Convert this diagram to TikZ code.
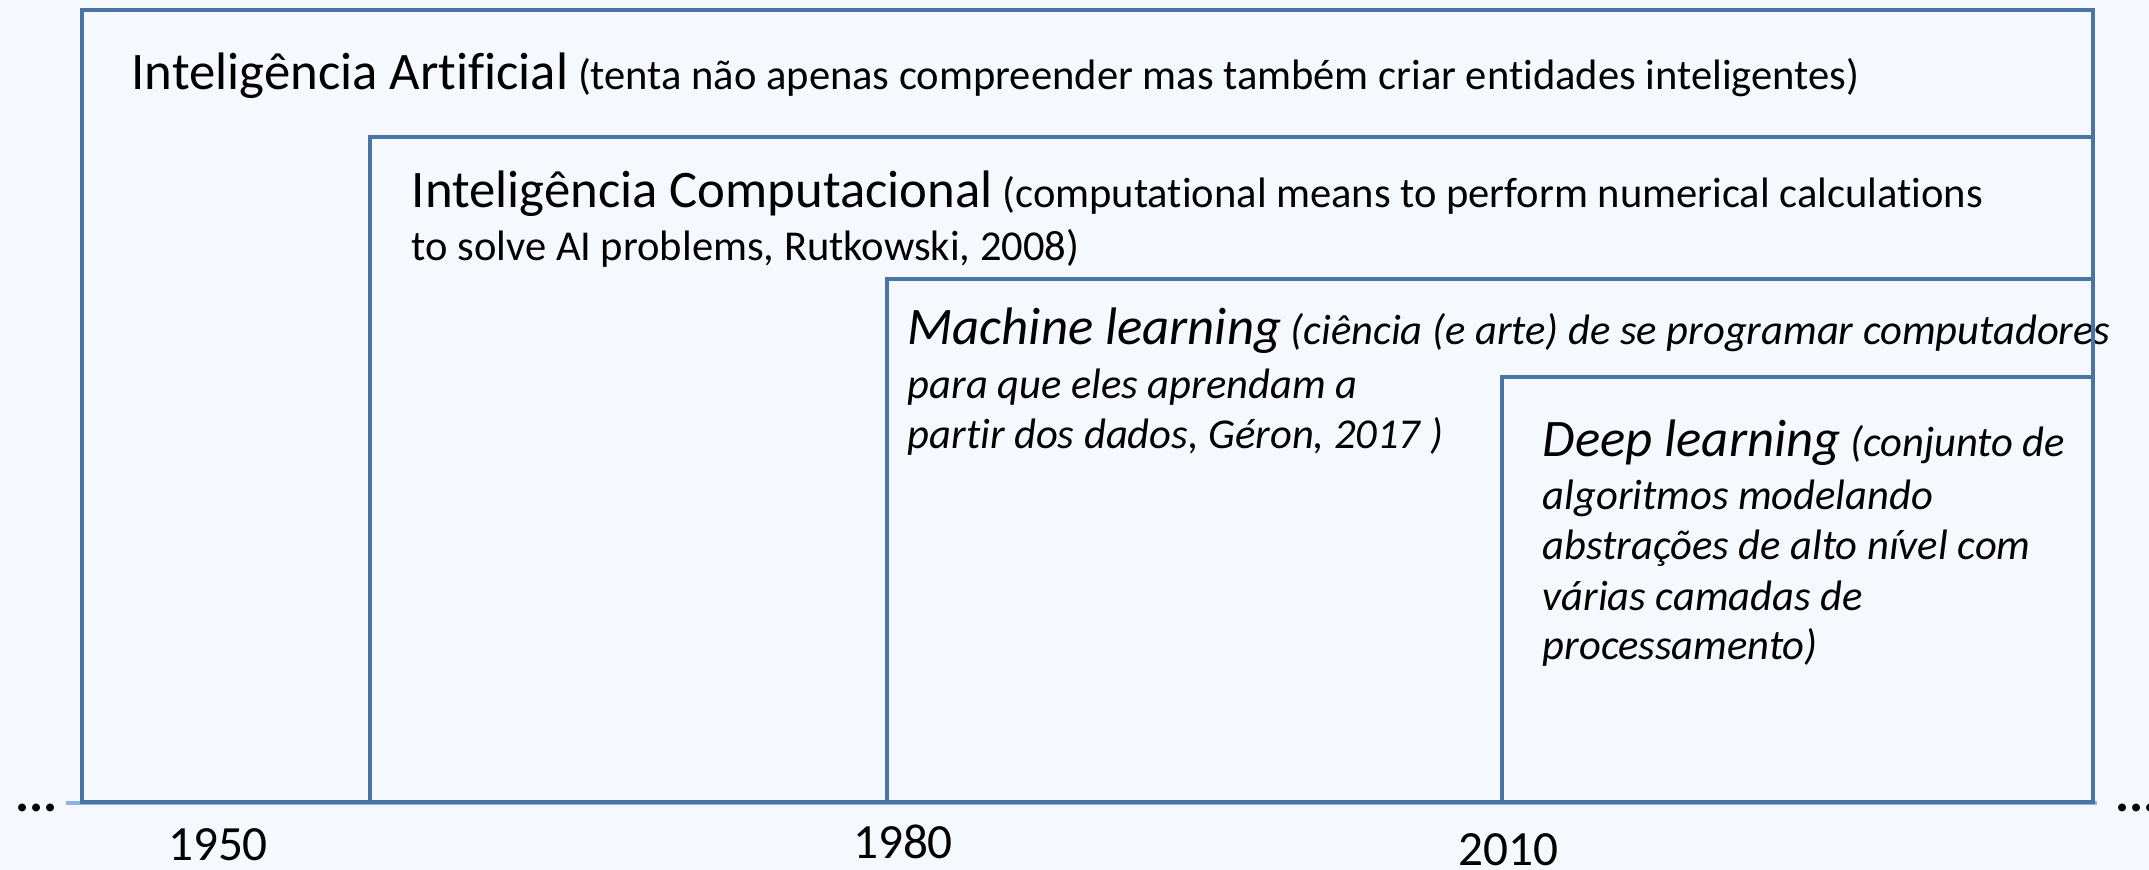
\documentclass[tikz,border=0pt]{standalone}
\usepackage{fontspec}
\setmainfont{Carlito}[Ligatures={NoCommon,NoContextual}]
\definecolor{framecol}{HTML}{4A74A6}
\definecolor{axiscol}{HTML}{8DB3E2}
\definecolor{bgcol}{HTML}{F5F8FD}
\newcommand{\headtxt}[1]{{\fontsize{15}{18}\selectfont #1}}

\begin{document}
\begin{tikzpicture}[x=0.01cm, y=-0.01cm,
    frame/.style={draw=framecol, line width=0.9pt},
    lbl/.style={anchor=base west, inner sep=0pt, font=\fontsize{12.1}{14.5}\selectfont},
    itlbl/.style={lbl, font=\fontsize{12.1}{14.5}\selectfont\itshape},
    year/.style={anchor=base, inner sep=0pt, font=\fontsize{14}{17}\selectfont},
    dots/.style={anchor=base west, inner sep=0pt, font=\fontsize{15}{18}\selectfont\bfseries}]
  \fill[bgcol] (0,0) rectangle (2149,870);
  \useasboundingbox (0,0) rectangle (2149,870);

  % time axis
  \draw[axiscol, line width=1.2pt] (66,803) -- (2097,803);
  \node[dots] (dotsl) at (15,811) {...};
  \node[dots] (dotsr) at (2115,811) {...};
  \node[year] (y1950) at (218,860) {1950};
  \node[year] (y1980) at (903,858) {1980};
  \node[year] (y2010) at (1508,865) {2010};

  % labels
  \node[lbl] (ai1) at (131,90) {\headtxt{Inteligência Artificial} (tenta não apenas compreender mas também criar entidades inteligentes)};
  \node[lbl] (ci1) at (411,208) {\headtxt{Inteligência Computacional} (computational means to perform numerical calculations};
  \node[lbl] (ci2) at (411,260) {to solve AI problems, Rutkowski, 2008)};
  \node[itlbl] (ml1) at (907,344) {\headtxt{Machine learning} (ciência (e arte) de se programar computadores};
  \node[itlbl] (ml2) at (907,398) {para que eles aprendam a};
  \node[itlbl] (ml3) at (907,448) {partir dos dados, Géron, 2017 )};
  \node[itlbl] (dl1) at (1542,456) {\headtxt{Deep learning} (conjunto de};
  \node[itlbl] (dl2) at (1542,509) {algoritmos modelando};
  \node[itlbl] (dl3) at (1542,559) {abstrações de alto nível com};
  \node[itlbl] (dl4) at (1542,610) {várias camadas de};
  \node[itlbl] (dl5) at (1542,659) {processamento)};

  % nested areas
  \draw[frame] (82,10) rectangle (2093,802);
  \draw[frame] (370,137) rectangle (2093,802);
  \draw[frame] (887,279) rectangle (2093,802);
  \draw[frame] (1502,377) rectangle (2093,802);
\end{tikzpicture}
\end{document}
